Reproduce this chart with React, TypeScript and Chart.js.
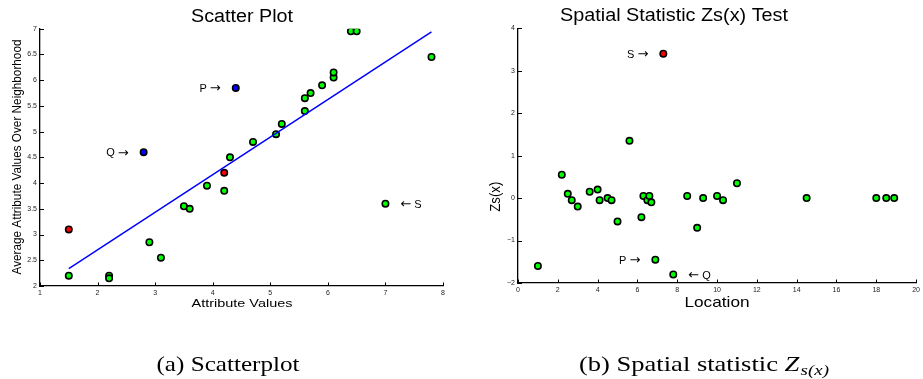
import React, { useEffect, useRef } from "react";
import { Chart, registerables } from "chart.js";

Chart.register(...registerables);

// ---------- data: (a) scatter plot ----------
const attrX = [1.5, 2.2, 2.2, 2.9, 3.1, 3.5, 3.6, 3.9, 4.2, 4.3, 4.7, 5.1, 5.2, 5.6, 5.6, 5.7, 5.9, 6.1, 6.1, 6.4, 6.5, 7.8, 7.0];
const nbrAvgY = [2.2, 2.2, 2.15, 2.85, 2.55, 3.55, 3.5, 3.95, 3.85, 4.5, 4.8, 4.95, 5.15, 5.4, 5.65, 5.75, 5.9, 6.05, 6.15, 6.95, 6.95, 6.45, 3.6];
const redAttrX = [1.5, 4.2];
const redNbrY = [3.1, 4.2];
const blueAttrX = [2.8, 4.4];
const blueNbrY = [4.6, 5.85];
const fitLineX = [1.5, 7.8];
const fitLineY = [2.34, 6.94];
const scatterXTicks = [1, 2, 3, 4, 5, 6, 7, 8];
const scatterYTicks = [2, 2.5, 3, 3.5, 4, 4.5, 5, 5.5, 6, 6.5, 7];
const scatterNoteLetter = ["P", "Q", "S"];
const scatterNoteX = [4.4, 2.8, 7.0];
const scatterNoteY = [5.85, 4.6, 3.6];
const scatterNoteSide = ["left", "left", "right"];

// ---------- data: (b) spatial statistic ----------
const locX = [1.0, 2.2, 2.5, 2.7, 3.0, 3.6, 4.0, 4.1, 4.5, 4.7, 5.0, 5.6, 6.2, 6.3, 6.5, 6.6, 6.7, 6.9, 7.8, 8.5, 9.0, 9.3, 10.0, 10.3, 11.0, 14.5, 18.0, 18.5, 18.9];
const zsY = [-1.6, 0.55, 0.1, -0.05, -0.2, 0.15, 0.2, -0.05, 0, -0.05, -0.55, 1.35, -0.45, 0.05, -0.05, 0.05, -0.1, -1.45, -1.8, 0.05, -0.7, 0, 0.05, -0.05, 0.35, 0, 0, 0, 0];
const redLocX = [7.3];
const redZsY = [3.4];
const zsXTicks = [0, 2, 4, 6, 8, 10, 12, 14, 16, 18, 20];
const zsYTicks = [-2, -1, 0, 1, 2, 3, 4];
const zsNoteLetter = ["S", "P", "Q"];
const zsNoteX = [7.3, 6.9, 7.8];
const zsNoteY = [3.4, -1.45, -1.8];
const zsNoteSide = ["left", "left", "right"];

const SANS = "'Liberation Sans', Arial, Helvetica, sans-serif";
const SERIF = "'Liberation Serif', 'Times New Roman', serif";
const ARROWFONT = "'DejaVu Sans', sans-serif";

type TextOpts = { align?: CanvasTextAlign; rot?: number; family?: string; style?: string; color?: string };

function fitText(ctx: CanvasRenderingContext2D, text: string, x: number, y: number, size: number, width: number, o: TextOpts = {}) {
  ctx.save();
  ctx.font = `${o.style || ""} ${size}px ${o.family || SANS}`;
  const m = ctx.measureText(text).width || 1;
  const sx = width / m;
  ctx.translate(x, y);
  if (o.rot) ctx.rotate(o.rot);
  ctx.scale(sx, 1);
  ctx.textAlign = o.align || "center";
  ctx.textBaseline = "alphabetic";
  ctx.fillStyle = o.color || "#000";
  ctx.fillText(text, 0, 0);
  ctx.restore();
}

const pts = (xs: number[], ys: number[]) => xs.map((x, i) => ({ x, y: ys[i] }));

const markerStyle = (fill: string) => ({
  pointRadius: 3.2,
  pointHoverRadius: 3.2,
  pointBorderWidth: 1.6,
  pointBorderColor: "#000",
  pointBackgroundColor: fill,
  backgroundColor: fill,
  borderColor: "#000",
  showLine: false,
});

function axisScale(ticksArr: number[], fitSize: number, horizontal: boolean, fmt?: (v: number) => string) {
  return {
    type: "linear" as const,
    min: ticksArr[0],
    max: ticksArr[ticksArr.length - 1],
    grid: { display: false, drawTicks: false },
    border: { display: true, color: "#000", width: 1.3 },
    ticks: {
      font: { size: 7, family: SANS },
      color: "#222",
      padding: 3,
      maxRotation: 0,
      autoSkip: false,
      callback: (v: number | string) => (fmt ? fmt(Number(v)) : String(v)),
    },
    afterBuildTicks: (s: any) => {
      s.ticks = ticksArr.map((v) => ({ value: v }));
    },
    afterFit: (s: any) => {
      if (horizontal) s.height = fitSize;
      else s.width = fitSize;
    },
  };
}

function inwardTicks(chart: any) {
  const { ctx, chartArea, scales } = chart;
  ctx.save();
  ctx.strokeStyle = "#000";
  ctx.lineWidth = 1;
  ctx.beginPath();
  scales.x.ticks.forEach((t: any) => {
    const px = Math.round(scales.x.getPixelForValue(t.value)) + 0.5;
    ctx.moveTo(px, chartArea.bottom);
    ctx.lineTo(px, chartArea.bottom - 3.5);
  });
  scales.y.ticks.forEach((t: any) => {
    const py = Math.round(scales.y.getPixelForValue(t.value)) + 0.5;
    ctx.moveTo(chartArea.left, py);
    ctx.lineTo(chartArea.left + 4, py);
  });
  ctx.stroke();
  ctx.restore();
}

// letter + TeX-like arrow, e.g. "P →" or "← S"
function drawNotes(chart: any, letters: string[], xs: number[], ys: number[], sides: string[]) {
  const ctx = chart.ctx as CanvasRenderingContext2D;
  const { scales } = chart;
  letters.forEach((L, i) => {
    const px = scales.x.getPixelForValue(xs[i]);
    const py = scales.y.getPixelForValue(ys[i]) + 4;
    const left = sides[i] === "left";
    ctx.save();
    ctx.fillStyle = "#000";
    ctx.textBaseline = "alphabetic";
    ctx.font = `11px ${SANS}`;
    const wl = ctx.measureText(L).width;
    ctx.font = `13px ${ARROWFONT}`;
    const arrow = left ? "\u2192" : "\u2190";
    const wa = ctx.measureText(arrow).width;
    const gap = 3;
    const total = wl + gap + wa;
    const x0 = left ? px - 15 - total : px + 15;
    ctx.textAlign = "left";
    if (left) {
      ctx.font = `11px ${SANS}`;
      ctx.fillText(L, x0, py);
      ctx.font = `13px ${ARROWFONT}`;
      ctx.fillText(arrow, x0 + wl + gap, py + 0.5);
    } else {
      ctx.font = `13px ${ARROWFONT}`;
      ctx.fillText(arrow, x0, py + 0.5);
      ctx.font = `11px ${SANS}`;
      ctx.fillText(L, x0 + wa + gap, py);
    }
    ctx.restore();
  });
}

function ScatterChart() {
  const ref = useRef<HTMLCanvasElement>(null);
  useEffect(() => {
    const plugin = {
      id: "scatterDecor",
      afterDraw(chart: any) {
        const ctx = chart.ctx as CanvasRenderingContext2D;
        inwardTicks(chart);
        drawNotes(chart, scatterNoteLetter, scatterNoteX, scatterNoteY, scatterNoteSide);
        fitText(ctx, "Scatter Plot", 242, 21.7, 18, 102);
        fitText(ctx, "Attribute Values", 242, 306.7, 10.3, 101);
        fitText(ctx, "Average Attribute Values Over Neighborhood", 20.8, 157, 12, 235, { rot: -Math.PI / 2 });
        fitText(ctx, "(a) Scatterplot", 228, 371, 21, 143, { family: SERIF });
      },
    };
    const chart = new Chart(ref.current!, {
      type: "scatter",
      data: {
        datasets: [
          {
            data: pts(fitLineX, fitLineY),
            showLine: true,
            borderColor: "#0000ff",
            borderWidth: 1.5,
            pointRadius: 0,
            pointHoverRadius: 0,
          } as any,
          { data: pts(blueAttrX, blueNbrY), ...markerStyle("#0000ff") },
          { data: pts(redAttrX, redNbrY), ...markerStyle("#ff0000") },
          { data: pts(attrX, nbrAvgY), ...markerStyle("#00ff00") },
        ],
      },
      options: {
        responsive: false,
        animation: false,
        events: [],
        layout: { padding: { left: 0, right: 17, top: 28.7, bottom: 0 } },
        plugins: { legend: { display: false }, title: { display: false }, tooltip: { enabled: false } },
        scales: {
          x: axisScale(scatterXTicks, 93, true) as any,
          y: axisScale(scatterYTicks, 40, false) as any,
        },
      },
      plugins: [plugin],
    });
    return () => chart.destroy();
  }, []);
  return <canvas ref={ref} width={460} height={379} style={{ position: "absolute", left: 0, top: 0, width: 460, height: 379 }} />;
}

function ZsChart() {
  const ref = useRef<HTMLCanvasElement>(null);
  useEffect(() => {
    const plugin = {
      id: "zsDecor",
      afterDraw(chart: any) {
        const ctx = chart.ctx as CanvasRenderingContext2D;
        inwardTicks(chart);
        drawNotes(chart, zsNoteLetter, zsNoteX, zsNoteY, zsNoteSide);
        fitText(ctx, "Spatial Statistic Zs(x) Test", 214, 20.7, 17.5, 228);
        fitText(ctx, "Location", 257, 306.7, 15, 65);
        fitText(ctx, "Zs(x)", 39.5, 196.7, 15, 30, { rot: -Math.PI / 2 });
        // caption (b) with subscript
        const main = "(b) Spatial statistic ";
        ctx.save();
        ctx.font = `21px ${SERIF}`;
        const w1 = ctx.measureText(main).width;
        ctx.font = `italic 21px ${SERIF}`;
        const w2 = ctx.measureText("Z").width + 1;
        ctx.font = `italic 15px ${SERIF}`;
        const w3 = ctx.measureText("s(x)").width;
        ctx.restore();
        const total = w1 + w2 + w3;
        const target = 250;
        const sx = target / total;
        const x0 = 244 - target / 2;
        ctx.save();
        ctx.translate(x0, 371);
        ctx.scale(sx, 1);
        ctx.fillStyle = "#000";
        ctx.textAlign = "left";
        ctx.textBaseline = "alphabetic";
        ctx.font = `21px ${SERIF}`;
        ctx.fillText(main, 0, 0);
        ctx.font = `italic 21px ${SERIF}`;
        ctx.fillText("Z", w1, 0);
        ctx.font = `italic 15px ${SERIF}`;
        ctx.fillText("s(x)", w1 + w2, 4);
        ctx.restore();
      },
    };
    const chart = new Chart(ref.current!, {
      type: "scatter",
      data: {
        datasets: [
          { data: pts(redLocX, redZsY), ...markerStyle("#ff0000") },
          { data: pts(locX, zsY), ...markerStyle("#00ff00") },
        ],
      },
      options: {
        responsive: false,
        animation: false,
        events: [],
        layout: { padding: { left: 0, right: 6, top: 28.3, bottom: 0 } },
        plugins: { legend: { display: false }, title: { display: false }, tooltip: { enabled: false } },
        scales: {
          x: axisScale(zsXTicks, 96, true) as any,
          y: axisScale(zsYTicks, 58, false, (v) => String(v).replace("-", "\u2212")) as any,
        },
      },
      plugins: [plugin],
    });
    return () => chart.destroy();
  }, []);
  return <canvas ref={ref} width={463} height={379} style={{ position: "absolute", left: 460, top: 0, width: 463, height: 379 }} />;
}

export default function App() {
  return (
    <div style={{ position: "absolute", left: 0, top: 0, width: 923, height: 379, background: "#fff", overflow: "hidden" }}>
      <ScatterChart />
      <ZsChart />
    </div>
  );
}
